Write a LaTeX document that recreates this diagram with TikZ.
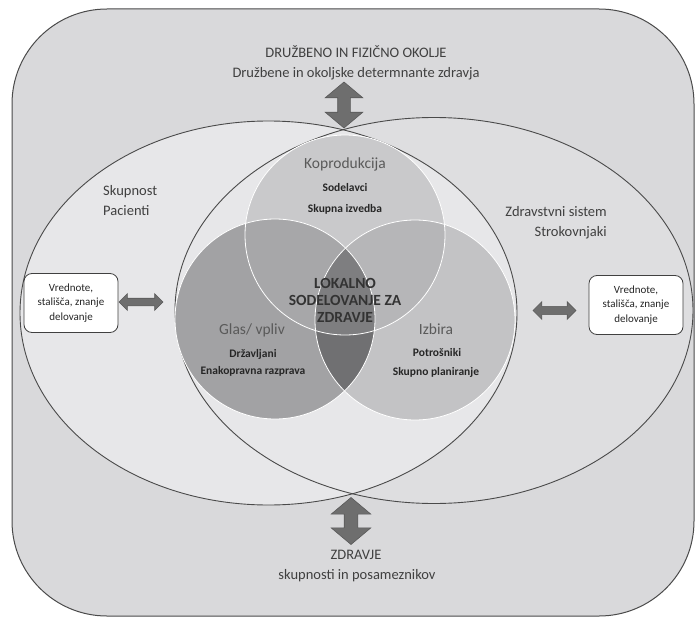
\documentclass[tikz,border=0pt]{standalone}
\usepackage{fontspec}
\setmainfont{Carlito}
\usetikzlibrary{shapes.arrows}
\definecolor{bggray}{HTML}{D9D9DB}
\definecolor{ellleft}{HTML}{E7E7E9}
\definecolor{ellright}{HTML}{DEDEE0}
\definecolor{linegray}{HTML}{4A4A4A}
\definecolor{ctop}{HTML}{C9C9CB}
\definecolor{cleft}{HTML}{A2A2A4}
\definecolor{cright}{HTML}{C3C3C5}
\definecolor{ctl}{HTML}{A7A7A9}
\definecolor{ctr}{HTML}{B6B6B8}
\definecolor{clr}{HTML}{707072}
\definecolor{ctlr}{HTML}{7E7E80}
\definecolor{txtgray}{HTML}{404040}
\definecolor{titlegray}{HTML}{5A5A5A}
\definecolor{arrowgray}{HTML}{6E6E6E}
\tikzset{
    plaintext/.style={
        text=txtgray,
        font=\fontsize{14.5}{20}\selectfont,
        inner sep=0pt,
        text height=0.7em,
        text depth=0.2em
    },
    circtitle/.style={
        plaintext,
        text=titlegray,
        font=\fontsize{15.5}{18}\selectfont
    },
    circitem/.style={
        plaintext,
        text=black!85,
        font=\bfseries\fontsize{11.5}{14}\selectfont
    },
    centertext/.style={
        align=center,
        inner sep=0pt,
        text=black!80,
        font=\bfseries\fontsize{15.5}{17}\selectfont
    },
    valbox/.style={
        rectangle,
        rounded corners=8pt,
        draw=black!75,
        fill=white,
        line width=0.8pt,
        minimum width=94pt,
        minimum height=59pt,
        align=center,
        text=black!85,
        font=\fontsize{11}{14.5}\selectfont
    },
    blockarrow/.style={
        double arrow,
        draw=black!65,
        fill=arrowgray,
        line width=0.6pt,
        inner xsep=0pt,
        double arrow head indent=0pt
    }
}

\begin{document}
\begin{tikzpicture}[x=1pt,y=-1pt]
        \clip (0,0) rectangle (696,618);
        % outer frame
        \filldraw[fill=bggray, draw=linegray, line width=1pt, rounded corners=95pt] (12,9) rectangle (694,616);

        \coordinate (skup) at (268.5,313);
        \coordinate (zdrav) at (434,310.5);
        \coordinate (kopro) at (345,235);
        \coordinate (glas) at (275,319);
        \coordinate (izbira) at (415,320);

        % two ellipses
        \fill[ellright] (zdrav) ellipse [x radius=259pt, y radius=193pt];
        \fill[ellleft] (skup) ellipse [x radius=248.5pt, y radius=192pt];
        \draw[linegray, line width=0.9pt] (zdrav) ellipse [x radius=259pt, y radius=193pt];
        \draw[linegray, line width=0.9pt] (skup) ellipse [x radius=248.5pt, y radius=192pt];

        % three circles
        \fill[ctop] (kopro) circle [radius=100pt];
        \fill[cleft] (glas) circle [radius=100pt];
        \fill[cright] (izbira) circle [radius=100pt];
        \begin{scope}
            \clip (kopro) circle [radius=100pt];
            \fill[ctl] (glas) circle [radius=100pt];
            \fill[ctr] (izbira) circle [radius=100pt];
        \end{scope}
        \begin{scope}
            \clip (glas) circle [radius=100pt];
            \fill[clr] (izbira) circle [radius=100pt];
            \clip (kopro) circle [radius=100pt];
            \fill[ctlr] (izbira) circle [radius=100pt];
        \end{scope}
        \draw[white, line width=0.8pt] (kopro) circle [radius=100pt];
        \draw[white, line width=0.8pt] (glas) circle [radius=100pt];
        \draw[white, line width=0.8pt] (izbira) circle [radius=100pt];

        % texts
        \node[plaintext] (okolje) at (356,55) {DRUŽBENO IN FIZIČNO OKOLJE};
        \node[plaintext] (determ) at (356,75) {Družbene in okoljske determnante zdravja};
        \node[plaintext, anchor=west] (skupnost) at (103,193) {Skupnost};
        \node[plaintext, anchor=west] (pacienti) at (103,213) {Pacienti};
        \node[plaintext, anchor=east] (sistem) at (607,214) {Zdravstvni sistem};
        \node[plaintext, anchor=east] (strok) at (607,234) {Strokovnjaki};

        \node[circtitle] (koprod) at (345,166) {Koprodukcija};
        \node[circitem] (sodel) at (345,189) {Sodelavci};
        \node[circitem] (izvedba) at (345,210) {Skupna izvedba};
        \node[circtitle] (glasvpliv) at (252,332) {Glas/ vpliv};
        \node[circitem] (drzav) at (253,355) {Državljani};
        \node[circitem] (razprava) at (253,372) {Enakopravna razprava};
        \node[circtitle] (izb) at (436,332) {Izbira};
        \node[circitem] (potros) at (437,354) {Potrošniki};
        \node[circitem] (planir) at (436,373) {Skupno planiranje};

        \node[centertext] (lokalno) at (345,300) {LOKALNO\\SODELOVANJE ZA\\ZDRAVJE};

        \node[plaintext] (zdravje) at (356,557) {ZDRAVJE};
        \node[plaintext] (posam) at (357,577) {skupnosti in posameznikov};

        % value boxes
        \node[valbox] (valleft) at (71,303) {Vrednote,\\stališča, znanje\\delovanje};
        \node[valbox] (valright) at (636,305) {Vrednote,\\stališča, znanje\\delovanje};

        % block arrows
        \node[blockarrow, rotate=90, minimum height=46pt, minimum width=37pt, inner ysep=6pt,
              double arrow head extend=12.5pt, double arrow tip angle=100] (arrtop) at (344,105) {};
        \node[blockarrow, rotate=90, minimum height=47pt, minimum width=39pt, inner ysep=6.5pt,
              double arrow head extend=13pt, double arrow tip angle=100] (arrbot) at (351,521) {};
        \node[blockarrow, minimum height=44pt, minimum width=16pt, inner ysep=3.5pt,
              double arrow head extend=4.5pt, double arrow tip angle=90] (arrleft) at (141,302) {};
        \node[blockarrow, minimum height=43pt, minimum width=17pt, inner ysep=3.8pt,
              double arrow head extend=4.7pt, double arrow tip angle=90] (arrright) at (554.5,310.5) {};
\end{tikzpicture}
\end{document}
